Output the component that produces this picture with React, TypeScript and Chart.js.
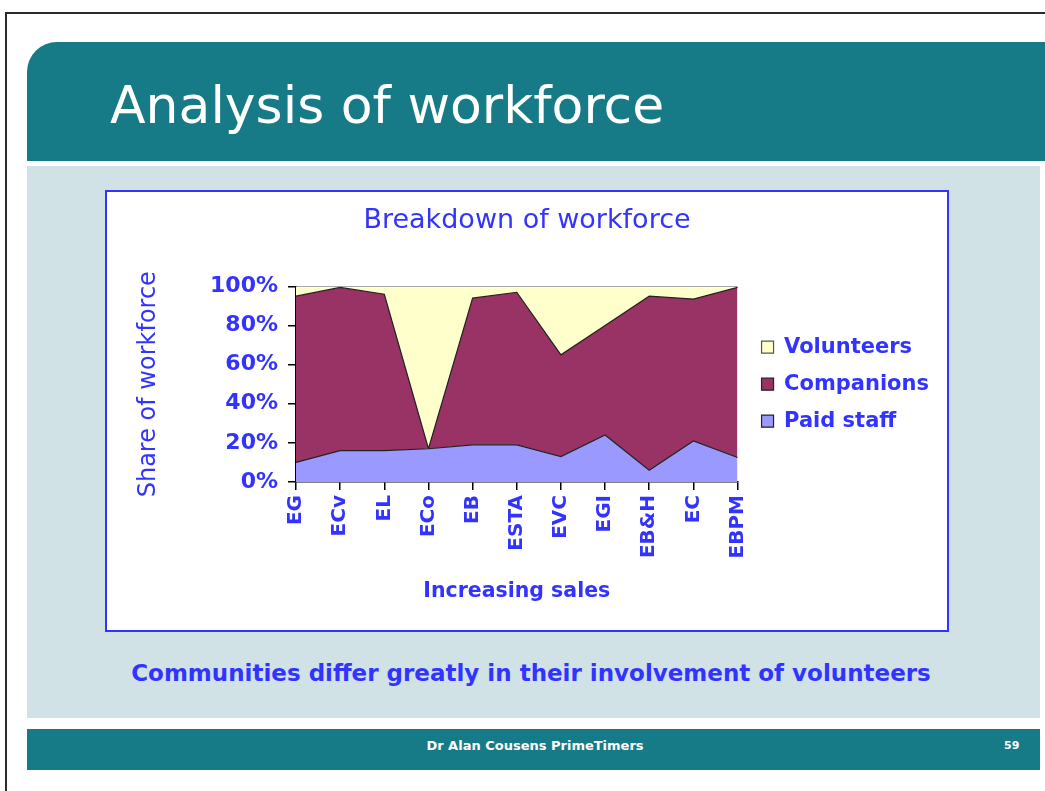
import React, { useEffect, useRef } from 'react';
import { Chart, registerables } from 'chart.js';

Chart.register(...registerables);

const categories = ['EG', 'ECv', 'EL', 'ECo', 'EB', 'ESTA', 'EVC', 'EGI', 'EB&H', 'EC', 'EBPM'];
const paidStaff = [10, 16, 16, 17, 19, 19, 13, 24, 6, 21, 12.5];
const companions = [85, 83.5, 80, 0, 75, 78, 52, 56, 89, 72.5, 87];
const volunteers = [5, 0.5, 4, 83, 6, 3, 35, 20, 5, 6.5, 0.5];
const yTickLabels = ['0%', '20%', '40%', '60%', '80%', '100%'];

const BLUE = '#3333ff';
const TEAL = '#177a87';
const FONT = "'DejaVu Sans', Verdana, sans-serif";

function WorkforceChart() {
  const ref = useRef<HTMLCanvasElement | null>(null);
  useEffect(() => {
    if (!ref.current) return;
    const chart = new Chart(ref.current, {
      type: 'line',
      data: {
        labels: categories,
        datasets: [
          {
            label: 'Paid staff',
            data: paidStaff,
            backgroundColor: '#9999ff',
            borderColor: '#222222',
            borderWidth: 1.2,
            fill: 'origin',
            pointRadius: 0,
            tension: 0,
          },
          {
            label: 'Companions',
            data: companions,
            backgroundColor: '#993366',
            borderColor: '#222222',
            borderWidth: 1.2,
            fill: '-1',
            pointRadius: 0,
            tension: 0,
          },
          {
            label: 'Volunteers',
            data: volunteers,
            backgroundColor: '#ffffcc',
            borderColor: '#555555',
            borderWidth: 1.2,
            fill: '-1',
            pointRadius: 0,
            tension: 0,
          },
        ],
      },
      options: {
        animation: false,
        responsive: false,
        maintainAspectRatio: false,
        layout: { padding: { left: 8, top: 0, bottom: 0, right: 8 } },
        plugins: {
          title: {
            display: true,
            text: 'Breakdown of workforce',
            color: BLUE,
            font: { family: FONT, size: 27, weight: 'normal' },
            padding: { top: 13, bottom: 49 },
          },
          legend: {
            position: 'right',
            fullSize: false,
            reverse: true,
            align: 'center',
            maxWidth: 320,
            labels: {
              color: BLUE,
              font: { family: FONT, size: 21, weight: 'bold' },
              boxWidth: 12,
              boxHeight: 12,
              padding: 16,
            },
          },
          tooltip: { enabled: false },
        },
        scales: {
          x: {
            type: 'category',
            offset: false,
            grid: { display: true, drawOnChartArea: false, tickLength: 8, color: '#000', lineWidth: 1.5 },
            border: { display: true, color: '#000', width: 1.5 },
            ticks: {
              color: BLUE,
              font: { family: FONT, size: 20, weight: 'bold' },
              minRotation: 90,
              maxRotation: 90,
              padding: 5,
              autoSkip: false,
            },
            title: {
              display: true,
              text: 'Increasing sales',
              color: BLUE,
              font: { family: FONT, size: 20.5, weight: 'bold' },
              padding: { top: 0, bottom: 26 },
            },
            afterFit: (s: any) => {
              s.height = 148;
            },
          },
          y: {
            stacked: true,
            min: 0,
            max: 100,
            grid: { display: true, drawOnChartArea: false, tickLength: 8, color: '#000', lineWidth: 1.5 },
            border: { display: true, color: '#000', width: 1.5 },
            ticks: {
              stepSize: 20,
              color: BLUE,
              font: { family: FONT, size: 22, weight: 'bold' },
              padding: 10,
              callback: (v: any) => yTickLabels[Math.round(Number(v) / 20)] ?? '',
            },
            title: {
              display: true,
              text: 'Share of workforce',
              color: BLUE,
              font: { family: FONT, size: 24, weight: 'normal' },
              padding: { top: 19, bottom: 0 },
            },
            afterFit: (s: any) => {
              s.width = 181;
            },
          },
          yPad: {
            type: 'linear',
            position: 'right',
            display: true,
            min: 0,
            max: 1,
            grid: { display: false, drawTicks: false },
            border: { display: false },
            ticks: { display: false },
            afterFit: (s: any) => {
              s.width = 8;
            },
          },
        },
      } as any,
    });
    return () => chart.destroy();
  }, []);
  return <canvas ref={ref} width={840} height={438} style={{ display: 'block', width: 840, height: 438 }} />;
}

export default function App() {
  return (
    <div
      style={{
        position: 'absolute',
        left: 0,
        top: 0,
        width: 1045,
        height: 791,
        background: '#ffffff',
        overflow: 'hidden',
        fontFamily: FONT,
      }}
    >
      <div
        style={{
          position: 'absolute',
          left: 5,
          top: 12,
          width: 1060,
          height: 800,
          borderLeft: '2px solid #2a2a2a',
          borderTop: '2px solid #2a2a2a',
        }}
      />
      <div
        style={{
          position: 'absolute',
          left: 27,
          top: 42,
          width: 1030,
          height: 119,
          background: TEAL,
          borderTopLeftRadius: 30,
        }}
      />
      <div
        style={{
          position: 'absolute',
          left: 110,
          top: 79,
          fontSize: 52,
          lineHeight: '52px',
          color: '#ffffff',
          whiteSpace: 'nowrap',
        }}
      >
        Analysis of workforce
      </div>
      <div
        style={{
          position: 'absolute',
          left: 27,
          top: 166,
          width: 1013,
          height: 552,
          background: '#d0e2e5',
        }}
      />
      <div
        style={{
          position: 'absolute',
          left: 105,
          top: 190,
          width: 840,
          height: 438,
          border: `2px solid ${BLUE}`,
          background: '#ffffff',
        }}
      >
        <WorkforceChart />
      </div>
      <div
        style={{
          position: 'absolute',
          left: 80,
          width: 902,
          top: 659,
          textAlign: 'center',
          fontSize: 23,
          fontWeight: 'bold',
          lineHeight: '28px',
          color: BLUE,
          whiteSpace: 'nowrap',
        }}
      >
        Communities differ greatly in their involvement of volunteers
      </div>
      <div
        style={{
          position: 'absolute',
          left: 27,
          top: 729,
          width: 1013,
          height: 41,
          background: TEAL,
        }}
      />
      <div
        style={{
          position: 'absolute',
          left: 335,
          width: 400,
          top: 738,
          textAlign: 'center',
          fontSize: 13,
          fontWeight: 'bold',
          lineHeight: '16px',
          color: '#ffffff',
          whiteSpace: 'nowrap',
        }}
      >
        Dr Alan Cousens PrimeTimers
      </div>
      <div
        style={{
          position: 'absolute',
          left: 1004,
          top: 739,
          fontSize: 11,
          fontWeight: 'bold',
          lineHeight: '14px',
          color: '#ffffff',
        }}
      >
        59
      </div>
    </div>
  );
}
